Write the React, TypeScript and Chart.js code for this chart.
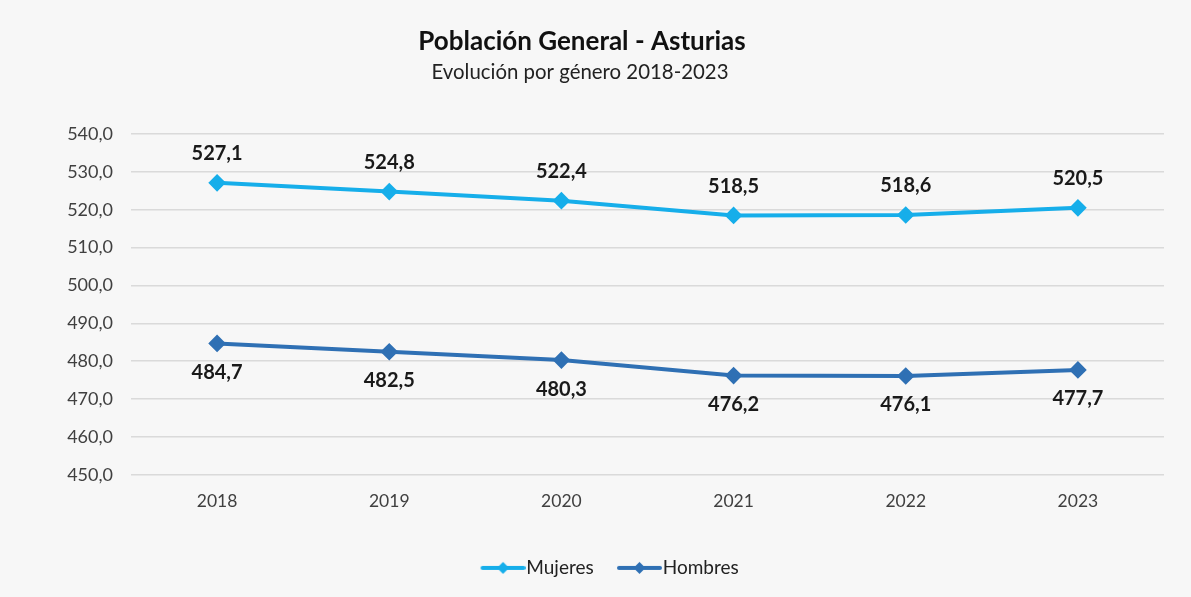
import React, { useEffect, useRef } from "react";
import { Chart, registerables } from "chart.js";

Chart.register(...registerables);

const years = ["2018", "2019", "2020", "2021", "2022", "2023"];
const mujeres = [527.1, 524.8, 522.4, 518.5, 518.6, 520.5];
const hombres = [484.7, 482.5, 480.3, 476.2, 476.1, 477.7];
const yTicks = { min: 450, max: 540, step: 10 };
const titleText = "Población General - Asturias";
const subtitleText = "Evolución por género 2018-2023";

const FONT = "Lato, 'Open Sans', sans-serif";
const C_MUJ = "#16aeea";
const C_HOM = "#2f70b4";

const fmt = (v: number) => v.toFixed(1).replace(".", ",");

function legendIcon(color: string) {
  const c = document.createElement("canvas");
  c.width = 77;
  c.height = 14;
  const ctx = c.getContext("2d")!;
  ctx.strokeStyle = color;
  ctx.lineWidth = 4;
  ctx.lineCap = "round";
  ctx.beginPath();
  ctx.moveTo(34, 7);
  ctx.lineTo(75, 7);
  ctx.stroke();
  ctx.fillStyle = color;
  ctx.beginPath();
  ctx.moveTo(54.5, 1);
  ctx.lineTo(60.5, 7);
  ctx.lineTo(54.5, 13);
  ctx.lineTo(48.5, 7);
  ctx.closePath();
  ctx.fill();
  return c;
}

const bgPlugin = {
  id: "bg",
  beforeDraw(chart: any) {
    const { ctx, width, height } = chart;
    ctx.save();
    ctx.fillStyle = "#f7f7f7";
    ctx.fillRect(0, 0, width, height);
    ctx.restore();
  },
};

const headerPlugin = {
  id: "header",
  afterDraw(chart: any) {
    const { ctx } = chart;
    ctx.save();
    ctx.textAlign = "center";
    ctx.textBaseline = "middle";
    ctx.fillStyle = "#111";
    ctx.font = `bold 26px ${FONT}`;
    ctx.fillText(titleText, 582, 42);
    ctx.fillStyle = "#222";
    ctx.font = `20.4px ${FONT}`;
    ctx.fillText(subtitleText, 580, 72);
    ctx.restore();
  },
};

const labelPlugin = {
  id: "valLabels",
  afterDatasetsDraw(chart: any) {
    const { ctx } = chart;
    ctx.save();
    ctx.font = `bold 20px ${FONT}`;
    ctx.fillStyle = "#1a1a1a";
    ctx.textAlign = "center";
    ctx.textBaseline = "middle";
    chart.data.datasets.forEach((ds: any, i: number) => {
      const meta = chart.getDatasetMeta(i);
      const above = i === 0;
      meta.data.forEach((pt: any, j: number) => {
        const y = above ? pt.y - 29 : pt.y + 29;
        ctx.fillText(fmt(ds.data[j]), pt.x, y);
      });
    });
    ctx.restore();
  },
};

export default function App() {
  const ref = useRef<HTMLCanvasElement | null>(null);
  useEffect(() => {
    document.body.style.margin = "0";
    const icons = [legendIcon(C_MUJ), legendIcon(C_HOM)];
    const chart = new Chart(ref.current!, {
      type: "line",
      data: {
        labels: years,
        datasets: [
          {
            label: "Mujeres",
            data: mujeres,
            borderColor: C_MUJ,
            backgroundColor: C_MUJ,
            borderWidth: 4,
            pointStyle: "rectRot",
            pointRadius: 6,
            tension: 0,
          },
          {
            label: "Hombres",
            data: hombres,
            borderColor: C_HOM,
            backgroundColor: C_HOM,
            borderWidth: 4,
            pointStyle: "rectRot",
            pointRadius: 6,
            tension: 0,
          },
        ],
      },
      options: {
        animation: false,
        responsive: false,
        layout: { padding: { top: 134, left: 5, right: 0, bottom: 9.6 } },
        plugins: {
          title: { display: false },
          legend: {
            position: "bottom",
            labels: {
              usePointStyle: true,
              pointStyleWidth: 59.5,
              color: "#222",
              font: { family: FONT, size: 19 },
              padding: 0,
              generateLabels: (ch: any) =>
                ch.data.datasets.map((ds: any, i: number) => ({
                  text: ds.label,
                  pointStyle: icons[i],
                  fillStyle: ds.borderColor,
                  strokeStyle: ds.borderColor,
                  lineWidth: 0,
                  hidden: false,
                  datasetIndex: i,
                  fontColor: "#222",
                })),
            },
          },
          tooltip: { enabled: false },
        },
        scales: {
          x: {
            offset: true,
            afterFit: (s: any) => {
              s.height = 83.6;
            },
            grid: { display: false },
            border: { display: false },
            ticks: {
              color: "#404040",
              font: { family: FONT, size: 17.5 },
              padding: 8.5,
            },
          },
          y: {
            min: yTicks.min,
            max: yTicks.max,
            afterFit: (s: any) => {
              s.width = 126;
            },
            grid: { color: "#dadada", lineWidth: 1.5, drawTicks: false },
            border: { display: false },
            ticks: {
              stepSize: yTicks.step,
              color: "#404040",
              font: { family: FONT, size: 18 },
              padding: 18,
              callback: (v: any) => fmt(Number(v)),
            },
          },
          yRight: {
            type: "linear",
            position: "right",
            afterFit: (s: any) => {
              s.width = 27;
            },
            grid: { display: false, drawTicks: false },
            border: { display: false },
            ticks: { display: false },
          },
        },
      },
      plugins: [bgPlugin, headerPlugin, labelPlugin],
    } as any);
    return () => chart.destroy();
  }, []);
  return <canvas ref={ref} width={1191} height={597} style={{ display: "block" }} />;
}
